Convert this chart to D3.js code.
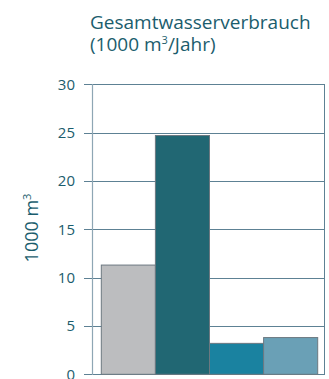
<!DOCTYPE html>
<html>
<head>
<meta charset="utf-8">
<script src="https://cdn.jsdelivr.net/npm/d3@7"></script>
<style>
  html, body { margin: 0; padding: 0; background: #fff; }
  svg { display: block; font-family: "Open Sans", "Noto Sans", sans-serif; }
</style>
</head>
<body>
<svg id="chart" width="329" height="379"></svg>
<script>
// Total water consumption, four categories (1000 m³ per year)
const categories = ["A", "B", "C", "D"];
const values = [11.3, 24.7, 3.2, 3.8];
const barColors = ["#bcbdbf", "#216773", "#1a82a0", "#6aa0b6"];
const yTicks = [0, 5, 10, 15, 20, 25, 30];

const svg = d3.select("#chart");
const textColor = "#1b5d6d";
const gridColor = "#5d8194";

const frame = { left: 92, right: 325, top: 84.3, bottom: 374.3 };

const y = d3.scaleLinear().domain([0, 30]).range([frame.bottom, frame.top]);
const x = d3.scaleBand().domain(categories).range([101.3, 317.7]).padding(0);

// Title
const title = svg.append("text")
  .attr("fill", textColor)
  .style("font-size", "19px");
title.append("tspan").attr("x", 90).attr("y", 29).text("Gesamtwasserverbrauch");
const t2 = title.append("tspan").attr("x", 90).attr("y", 51);
t2.append("tspan").text("(1000 m");
t2.append("tspan").attr("dy", -7).style("font-size", "11px").text("3");
t2.append("tspan").attr("dy", 7).text("/Jahr)");

// Horizontal gridlines with tick stubs
svg.append("g")
  .selectAll("line")
  .data(yTicks)
  .join("line")
  .attr("x1", 84)
  .attr("x2", frame.right)
  .attr("y1", d => Math.round(y(d)) + 0.5)
  .attr("y2", d => Math.round(y(d)) + 0.5)
  .attr("stroke", gridColor)
  .attr("stroke-width", 1);

// Left axis line and right frame line
svg.append("line")
  .attr("x1", frame.left + 0.5).attr("x2", frame.left + 0.5)
  .attr("y1", Math.round(y(30))).attr("y2", Math.round(y(0)) + 1)
  .attr("stroke", "#8ea6b4").attr("stroke-width", 1.2);
svg.append("line")
  .attr("x1", frame.right - 0.5).attr("x2", frame.right - 0.5)
  .attr("y1", Math.round(y(30))).attr("y2", Math.round(y(0)) + 1)
  .attr("stroke", gridColor).attr("stroke-width", 1);

// Tick labels
svg.append("g")
  .selectAll("text")
  .data(yTicks)
  .join("text")
  .attr("x", 75)
  .attr("y", d => y(d))
  .attr("dy", "0.36em")
  .attr("text-anchor", "end")
  .attr("fill", textColor)
  .style("font-size", "15px")
  .text(d => d);

// Bars
svg.append("g")
  .selectAll("rect")
  .data(values)
  .join("rect")
  .attr("x", (d, i) => x(categories[i]))
  .attr("y", d => y(d))
  .attr("width", x.bandwidth())
  .attr("height", d => y(0) - y(d))
  .attr("fill", (d, i) => barColors[i])
  .attr("stroke", "#6c7880")
  .attr("stroke-width", 1);

// Y-axis title
const yl = svg.append("text")
  .attr("transform", "translate(38,228) rotate(-90)")
  .attr("text-anchor", "middle")
  .attr("fill", textColor)
  .style("font-size", "18px");
yl.append("tspan").text("1000 m");
yl.append("tspan").attr("dy", -7).style("font-size", "11px").text("3");
</script>
</body>
</html>
